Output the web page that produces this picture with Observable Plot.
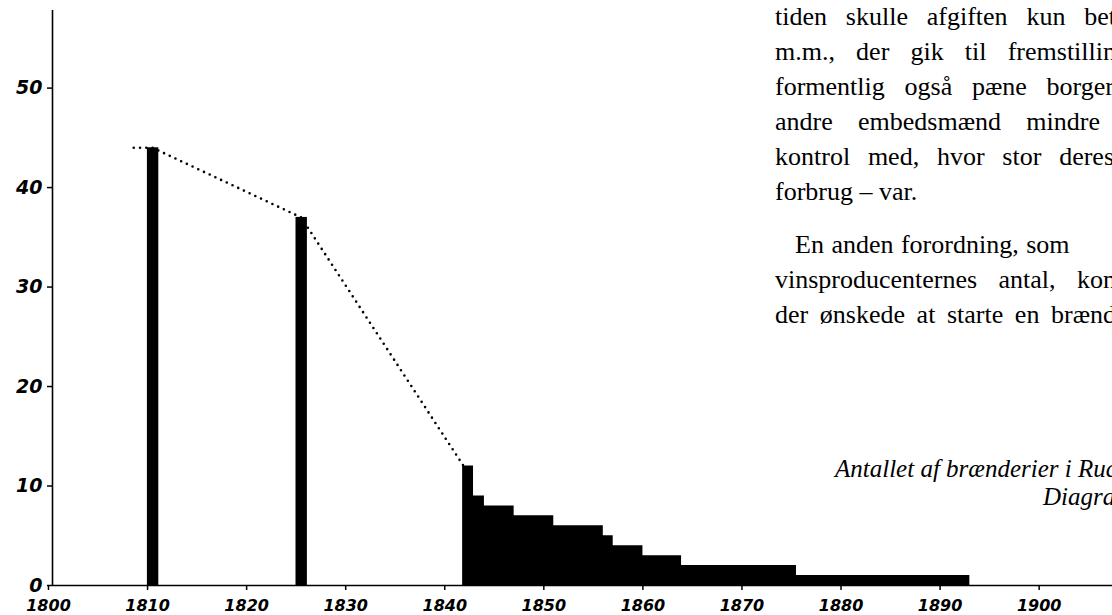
<!DOCTYPE html>
<html><head><meta charset="utf-8">
<script src="https://cdn.jsdelivr.net/npm/d3@7"></script>
<script src="https://cdn.jsdelivr.net/npm/@observablehq/plot@0.6"></script>
<style>
html,body{margin:0;padding:0;background:#fff;}
#wrap{position:relative;width:1112px;height:615px;overflow:hidden;background:#fff;}
#chart{position:absolute;left:0;top:0;}
#text{position:absolute;left:0;top:0;}
#chart g[aria-label="x-axis tick label"] text{font-family:"DejaVu Sans";font-weight:bold;font-style:italic;font-size:16px;}
#chart g[aria-label="y-axis tick label"] text{font-family:"DejaVu Sans";font-weight:bold;font-style:italic;font-size:19px;}
</style></head><body>
<div id="wrap"><div id="chart"></div><svg id="text" width="1112" height="615"></svg></div>
<script>
// Data
const barYears = [1810, 1825];
const barCounts = [44, 37];
const stepYears = [1841.4, 1842.5, 1843.6, 1846.6, 1850.6, 1855.6, 1856.6, 1859.6, 1863.5, 1875.1, 1892.6];
const stepCounts = [12, 9, 8, 7, 6, 5, 4, 3, 2, 1, 0];
const trendYears = [1808.2, 1810.1, 1825.1, 1841.5];
const trendCounts = [44, 44, 37, 12];
const xTicks = [1800, 1810, 1820, 1830, 1840, 1850, 1860, 1870, 1880, 1890, 1900];
const yTicks = [0, 10, 20, 30, 40, 50];
const para1 = ["tiden skulle afgiften kun bet", "m.m., der gik til fremstillin", "formentlig også pæne borger", "andre embedsmænd mindre", "kontrol med, hvor stor deres", "forbrug – var."];
const para2 = ["En anden forordning, som", "vinsproducenternes antal, kon", "der ønskede at starte en brænd"];
const captionLines = ["Antallet af brænderier i Ruc", "Diagra"];

const bars = barYears.map((year, i) => ({year, count: barCounts[i]}));
const steps = stepYears.map((x, i) => ({x, y: stepCounts[i]}));
const trend = trendYears.map((x, i) => ({x, y: trendCounts[i]}));

const chart = Plot.plot({
  width: 1112, height: 615,
  marginLeft: 52, marginRight: 0, marginTop: 10, marginBottom: 30,
  style: {background: "transparent", color: "black"},
  x: {domain: [1800, 1907], label: null},
  y: {domain: [0, 57.8], label: null},
  marks: [
    Plot.line(trend, {x: "x", y: "y", stroke: "black", strokeWidth: 2.6, strokeDasharray: "0 6.3", strokeLinecap: "round"}),
    Plot.area(steps, {x1: "x", y1: () => 0, y2: "y", curve: "step-after", fill: "black"}),
    Plot.rect(bars, {x1: d => d.year - 0.42, x2: d => d.year + 0.73, y1: () => 0, y2: "count", fill: "black"}),
    Plot.ruleX([1800], {stroke: "black", strokeWidth: 1.6}),
    Plot.ruleY([0], {stroke: "black", strokeWidth: 1.6}),
    Plot.axisX({ticks: xTicks, tickSize: 5, tickPadding: 9, tickFormat: d => String(d), dx: -4, strokeWidth: 1.5, label: null}),
    Plot.axisY({ticks: yTicks, tickSize: 5, tickPadding: 5, tickFormat: d => String(d), strokeWidth: 1.5, label: null})
  ]
});
document.getElementById("chart").appendChild(chart);

// Page text (book page beside the diagram)
const svg = d3.select("#text");
function addLine(str, x, y, opts) {
  const t = svg.append("text").attr("x", x).attr("y", y)
    .attr("font-family", "Liberation Serif").attr("font-size", opts.size)
    .attr("font-style", opts.italic ? "italic" : "normal").attr("fill", "#000").text(str);
  if (opts.end) {
    t.attr("word-spacing", 0);
    const w = t.node().getComputedTextLength();
    const spaces = (str.match(/ /g) || []).length;
    if (spaces > 0) t.attr("word-spacing", (opts.end - x - w) / spaces);
  } else if (opts.ws != null) {
    t.attr("word-spacing", opts.ws);
  }
}
const lh = 35;
const fs = 26;
const ends1 = [1116, 1116, 1114, 1100, 1114, null];
para1.forEach((s, i) => addLine(s, 775, 25 + i * lh, ends1[i] ? {size: fs, end: ends1[i]} : {size: fs}));
const ends2 = [null, 1116, 1116];
para2.forEach((s, i) => addLine(s, i === 0 ? 795 : 775, 253 + i * lh, ends2[i] ? {size: fs, end: ends2[i]} : {size: fs, ws: 1}));
addLine(captionLines[0], 835, 477, {size: 25, italic: true});
addLine(captionLines[1], 1043, 505, {size: 25, italic: true});
</script>
</body></html>
